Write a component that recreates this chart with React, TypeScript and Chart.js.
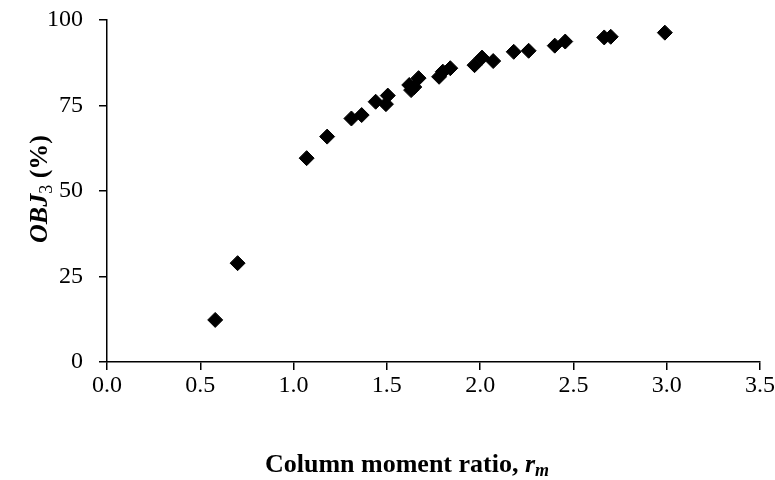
import React, { useEffect, useRef } from "react";
import { Chart, registerables } from "chart.js";

Chart.register(...registerables);

// Column moment ratio r_m (x) and OBJ3 objective value in percent (y)
const ratioValues = [
  0.58, 0.70, 1.07, 1.18, 1.31, 1.365, 1.44, 1.495, 1.505, 1.62, 1.63, 1.647,
  1.67, 1.78, 1.80, 1.84, 1.97, 2.01, 2.07, 2.18, 2.26, 2.40, 2.456, 2.665,
  2.70, 2.99,
];
const objValues = [
  12.3, 28.9, 59.6, 65.9, 71.2, 72.2, 76.1, 75.4, 77.9, 81.0, 79.5, 80.4,
  83.0, 83.4, 84.9, 85.9, 86.8, 89.0, 88.0, 90.7, 91.0, 92.5, 93.7, 94.9,
  95.1, 96.3,
];

const xTickStep = 0.5;
const xRange = [0, 3.5];
const yTickStep = 25;
const yRange = [0, 100];

const SERIF = "'Liberation Serif', 'Times New Roman', serif";

type Part = { text: string; font: string; dy?: number };

function drawParts(ctx: CanvasRenderingContext2D, parts: Part[], cx: number, cy: number) {
  let total = 0;
  for (const p of parts) {
    ctx.font = p.font;
    total += ctx.measureText(p.text).width;
  }
  let x = cx - total / 2;
  ctx.textBaseline = "middle";
  ctx.textAlign = "left";
  for (const p of parts) {
    ctx.font = p.font;
    ctx.fillText(p.text, x, cy + (p.dy || 0));
    x += ctx.measureText(p.text).width;
  }
}

const axisTitles = {
  id: "axisTitles",
  afterDraw(chart: any) {
    const { ctx, chartArea } = chart;
    ctx.save();
    ctx.fillStyle = "#000";
    drawParts(
      ctx,
      [
        { text: "Column moment ratio, ", font: `bold 26px ${SERIF}` },
        { text: "r", font: `bold italic 26px ${SERIF}` },
        { text: "m", font: `bold italic 18px ${SERIF}`, dy: 6 },
      ],
      407,
      465
    );
    ctx.translate(40, (chartArea.top + chartArea.bottom) / 2 - 2);
    ctx.rotate(-Math.PI / 2);
    drawParts(
      ctx,
      [
        { text: "OBJ", font: `bold italic 26px ${SERIF}` },
        { text: "3", font: `18px ${SERIF}`, dy: 7 },
        { text: " (%)", font: `bold 26px ${SERIF}` },
      ],
      0,
      0
    );
    ctx.restore();
  },
};

export default function App() {
  const canvasRef = useRef<HTMLCanvasElement>(null);

  useEffect(() => {
    document.body.style.margin = "0";
    const points = ratioValues.map((x, i) => ({ x, y: objValues[i] }));
    const chart = new Chart(canvasRef.current!, {
      type: "scatter",
      data: {
        datasets: [
          {
            data: points,
            pointStyle: "rectRot",
            pointRadius: 7.5,
            pointHoverRadius: 7.5,
            backgroundColor: "#000",
            borderColor: "#000",
            borderWidth: 1,
          },
        ],
      },
      options: {
        animation: false,
        responsive: false,
        events: [],
        layout: { padding: { left: 0, right: 15, top: 20, bottom: 0 } },
        plugins: { legend: { display: false }, tooltip: { enabled: false } },
        scales: {
          x: {
            type: "linear",
            min: xRange[0],
            max: xRange[1],
            ticks: {
              stepSize: xTickStep,
              color: "#000",
              padding: 1,
              font: { family: SERIF, size: 24 },
              callback: (v: any) => Number(v).toFixed(1),
            },
            grid: { drawOnChartArea: false, drawTicks: true, tickLength: 8, color: "#000", lineWidth: 1.5 },
            border: { display: true, color: "#000", width: 1.5 },
            afterFit: (s: any) => {
              s.height = 118;
              s.paddingLeft = 0;
              s.paddingRight = 0;
            },
          },
          y: {
            type: "linear",
            min: yRange[0],
            max: yRange[1],
            ticks: {
              stepSize: yTickStep,
              color: "#000",
              padding: 16,
              font: { family: SERIF, size: 24 },
            },
            grid: { drawOnChartArea: false, drawTicks: true, tickLength: 8, color: "#000", lineWidth: 1.5 },
            border: { display: true, color: "#000", width: 1.5 },
            afterFit: (s: any) => {
              s.width = 107;
              s.paddingTop = 0;
              s.paddingBottom = 0;
            },
          },
        },
      },
      plugins: [axisTitles],
    });
    return () => chart.destroy();
  }, []);

  return (
    <div style={{ position: "absolute", left: 0, top: 0, width: 775, height: 480, background: "#fff" }}>
      <canvas ref={canvasRef} width={775} height={480} />
    </div>
  );
}
